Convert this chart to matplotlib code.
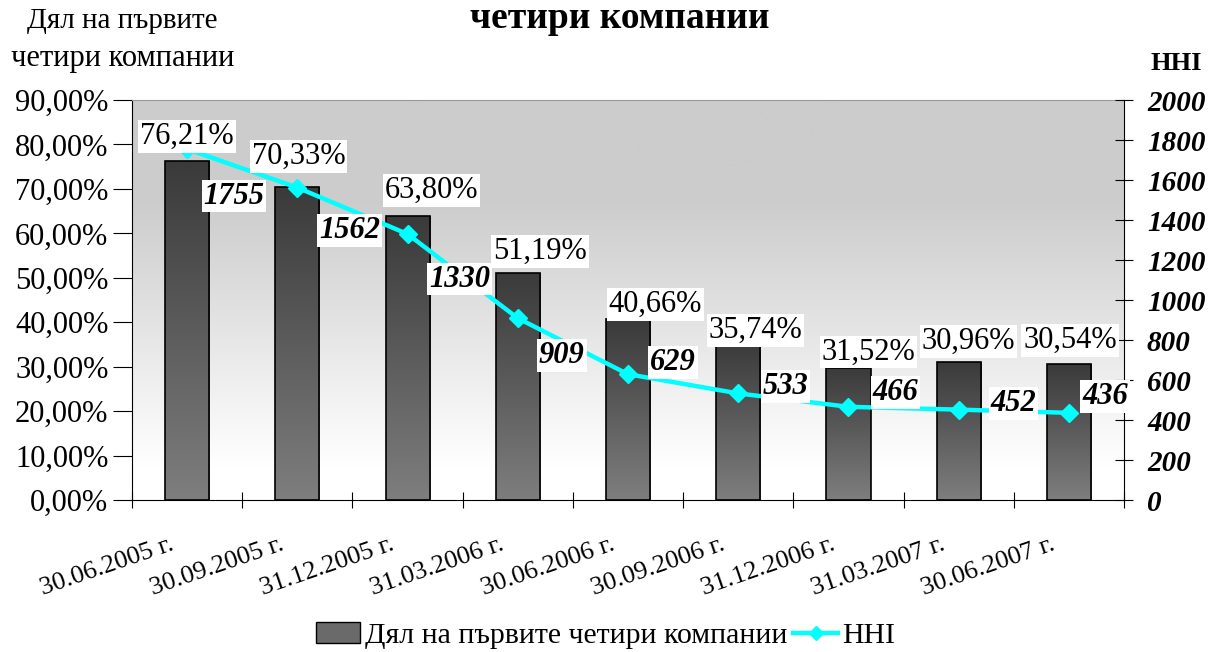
import numpy as np
import matplotlib.pyplot as plt
from matplotlib.colors import LinearSegmentedColormap
from matplotlib.lines import Line2D
from matplotlib.patches import Patch
from matplotlib.transforms import ScaledTranslation

plt.rcParams['font.family'] = ['Liberation Serif', 'DejaVu Serif']

# данни
dates = ['30.06.2005 г.', '30.09.2005 г.', '31.12.2005 г.', '31.03.2006 г.',
         '30.06.2006 г.', '30.09.2006 г.', '31.12.2006 г.', '31.03.2007 г.',
         '30.06.2007 г.']
share = [76.21, 70.33, 63.80, 51.19, 40.66, 35.74, 29.7, 30.96, 30.54]
share_labels = ['76,21%', '70,33%', '63,80%', '51,19%', '40,66%', '35,74%',
                '31,52%', '30,96%', '30,54%']
hhi = [1755, 1562, 1330, 909, 629, 533, 466, 452, 436]

# отмествания на етикетите (пиксели)
share_off = [(0, 25), (1, 31), (24, 26), (22, 21), (27, 15), (17, 11),
             (20, 16), (10, 21), (1, 24)]
hhi_off = [(47, -47), (52, -43), (52, -45), (44, -37), (45, 12), (47, 7),
           (47, 14), (55, 6), (36, 16)]

fig = plt.figure(figsize=(12.11, 6.52), dpi=100)
ax = fig.add_axes([0.109, 0.2331, 0.8192, 0.6135])
x = np.arange(len(dates))

# фон с преливане
bg = LinearSegmentedColormap.from_list('bg', [(0, '#ffffff'), (0.08, '#ffffff'),
                                              (0.75, '#cccccc'), (1, '#cccccc')])
grad = np.linspace(0, 1, 256).reshape(-1, 1)
ax.imshow(grad, cmap=bg, aspect='auto', origin='lower',
          extent=[-0.5, len(dates) - 0.5, 0, 90], zorder=0)

barcm = LinearSegmentedColormap.from_list('bar', ['#7e7e7e', '#3a3a3a'])
bars = ax.bar(x, share, width=0.4, color='none', edgecolor='black',
              linewidth=1.2, zorder=2)
for b in bars:
    im = ax.imshow(grad, cmap=barcm, aspect='auto', origin='lower',
                   extent=[b.get_x(), b.get_x() + b.get_width(), 0, b.get_height()],
                   zorder=1.5)
    im.set_clip_path(b)

ax.set_xlim(-0.5, len(dates) - 0.5)
ax.set_ylim(0, 90)
ax.set_yticks(np.arange(0, 91, 10))
ax.set_yticklabels([('%.2f%%' % v).replace('.', ',') for v in np.arange(0, 91, 10)],
                   fontsize=22)
ax.set_xticks(np.arange(len(dates) + 1) - 0.5)
ax.set_xticklabels([])
ax.tick_params(axis='x', direction='inout', length=11)
ax.tick_params(axis='y', direction='out', length=14, pad=3)
ax.spines['top'].set_color('#999999')
ax.spines['right'].set_visible(False)

# надписи на датите (наклонени)
date_tr = ax.get_xaxis_transform() + ScaledTranslation(-18 / 100, -33 / 100,
                                                       fig.dpi_scale_trans)
for i, d in enumerate(dates):
    ax.text(x[i], 0, d, transform=date_tr, rotation=19, rotation_mode='anchor',
            ha='right', va='top', fontsize=19)

ax2 = ax.twinx()
ax2.set_ylim(0, 2000)
ax2.set_yticks(np.arange(0, 2001, 200))
ax2.set_yticklabels([str(v) for v in range(0, 2001, 200)], fontsize=21,
                    fontweight='bold', fontstyle='italic')
ax2.tick_params(axis='y', direction='inout', length=13, pad=10)
ax2.spines['top'].set_visible(False)
ax2.spines['left'].set_visible(False)
ax2.spines['bottom'].set_visible(False)
ax2.plot(x, hhi, color='#00ffff', linewidth=3.2, marker='D', markersize=9,
         zorder=3)

box = dict(boxstyle='square,pad=0.06', fc='white', ec='none')
for i, v in enumerate(hhi):
    ax2.annotate(str(v), (x[i], v), xytext=hhi_off[i],
                 textcoords='offset pixels', ha='center', va='center',
                 fontsize=22, fontweight='bold', fontstyle='italic', zorder=6,
                 bbox=box)
for i, v in enumerate(share):
    ax2.annotate(share_labels[i], (x[i], v), xycoords=ax.transData,
                 xytext=share_off[i], textcoords='offset pixels',
                 ha='center', va='center', fontsize=22, zorder=6, bbox=box)

fig.text(0.101, 0.968, 'Дял на първите', fontsize=21, ha='center', va='center')
fig.text(0.101, 0.911, 'четири компании', fontsize=22, ha='center', va='center')
fig.text(0.512, 0.972, 'четири компании', fontsize=27, fontweight='bold',
         ha='center', va='center')
fig.text(0.971, 0.902, 'HHI', fontsize=19, fontweight='bold',
         ha='center', va='center')

handles = [Patch(facecolor='#6a6a6a', edgecolor='black'),
           Line2D([], [], color='#00ffff', linewidth=3.2, marker='D', markersize=7)]
fig.legend(handles, ['Дял на първите четири компании', 'HHI'], loc='center',
           bbox_to_anchor=(0.5, 0.025), ncol=2, frameon=False, fontsize=21.5,
           handlelength=1.5, handletextpad=0.15, columnspacing=0.2)

fig.savefig('out.png', dpi=100)
